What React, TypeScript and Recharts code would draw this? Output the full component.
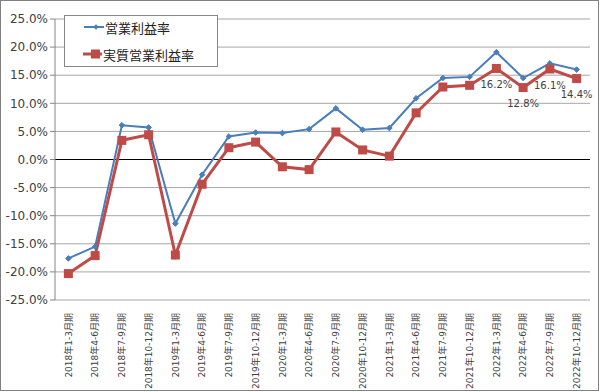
import React from "react";
import {
  LineChart,
  Line,
  XAxis,
  YAxis,
  CartesianGrid,
  ReferenceLine,
  LabelList,
} from "recharts";

const categories = [
  "2018年1-3月期", "2018年4-6月期", "2018年7-9月期", "2018年10-12月期",
  "2019年1-3月期", "2019年4-6月期", "2019年7-9月期", "2019年10-12月期",
  "2020年1-3月期", "2020年4-6月期", "2020年7-9月期", "2020年10-12月期",
  "2021年1-3月期", "2021年4-6月期", "2021年7-9月期", "2021年10-12月期",
  "2022年1-3月期", "2022年4-6月期", "2022年7-9月期", "2022年10-12月期",
];

const operatingMargin = [
  -17.6, -15.5, 6.1, 5.7, -11.4, -2.7, 4.1, 4.8, 4.7, 5.4,
  9.1, 5.3, 5.6, 10.9, 14.5, 14.7, 19.1, 14.5, 17.1, 16.0,
];

const realMargin = [
  -20.3, -17.1, 3.4, 4.4, -17.0, -4.4, 2.1, 3.1, -1.3, -1.8,
  4.9, 1.7, 0.6, 8.3, 12.9, 13.2, 16.2, 12.8, 16.1, 14.4,
];

const realLabels: (string | null)[] = [
  null, null, null, null, null, null, null, null, null, null,
  null, null, null, null, null, null, "16.2%", "12.8%", "16.1%", "14.4%",
];

const yTicks = [-25, -20, -15, -10, -5, 0, 5, 10, 15, 20, 25];

const seriesNames = ["営業利益率", "実質営業利益率"];

const BLUE = "#4A7EBB";
const RED = "#BE4B48";

const data = categories.map((c, i) => ({
  cat: c,
  op: operatingMargin[i],
  real: realMargin[i],
  label: realLabels[i],
}));

const XTick = (props: any) => {
  const { x, y, payload } = props;
  return (
    <text
      x={x}
      y={y + 5}
      transform={`rotate(-90, ${x}, ${y + 5})`}
      textAnchor="end"
      dy="0.36em"
      fontSize={9}
      fill="#404040"
      fontFamily="'DejaVu Sans', 'Noto Sans CJK JP', sans-serif"
    >
      {payload.value}
    </text>
  );
};

const Diamond = (props: any) => {
  const { cx, cy } = props;
  if (cx == null || cy == null) return null;
  const s = 2.8;
  return (
    <path
      d={`M${cx},${cy - s} L${cx + s},${cy} L${cx},${cy + s} L${cx - s},${cy} Z`}
      fill={BLUE}
      stroke={BLUE}
    />
  );
};

const Square = (props: any) => {
  const { cx, cy } = props;
  if (cx == null || cy == null) return null;
  const s = 4.5;
  return <rect x={cx - s} y={cy - s} width={s * 2} height={s * 2} fill={RED} />;
};

const LabelContent = (props: any) => {
  const { x, y, value } = props;
  if (value == null) return null;
  return (
    <text
      x={x}
      y={y + 16}
      textAnchor="middle"
      dominantBaseline="central"
      fontSize={10}
      fill="#404040"
      fontFamily="'DejaVu Sans', sans-serif"
    >
      {value}
    </text>
  );
};

const LegendBox = () => (
  <div
    style={{
      position: "absolute",
      left: 63,
      top: 14,
      width: 154,
      height: 52,
      border: "1px solid #888",
      background: "#fff",
      boxSizing: "border-box",
    }}
  >
    <svg width={152} height={50} style={{ position: "absolute", left: 0, top: 0 }}>
      <line x1={19} y1={11} x2={39} y2={11} stroke={BLUE} strokeWidth={2} />
      <path d="M31,8.2 L33.8,11 L31,13.8 L28.2,11 Z" fill={BLUE} />
      <text x={40} y={11} dominantBaseline="central" fontSize={13} fill="#222" fontFamily="'Noto Sans CJK JP', sans-serif">
        {seriesNames[0]}
      </text>
      <line x1={18} y1={38} x2={37} y2={38} stroke={RED} strokeWidth={3} />
      <rect x={26} y={33.5} width={9} height={9} fill={RED} />
      <text x={38} y={38} dominantBaseline="central" fontSize={13} fill="#222" fontFamily="'Noto Sans CJK JP', sans-serif">
        {seriesNames[1]}
      </text>
    </svg>
  </div>
);

export default function App() {
  return (
    <div
      style={{
        position: "absolute",
        left: 0,
        top: 0,
        width: 599,
        height: 391,
        border: "1px solid #808080",
        boxSizing: "border-box",
        background: "#fff",
        overflow: "hidden",
      }}
    >
      <div style={{ position: "absolute", left: -1, top: -1 }}>
        <LineChart
          width={599}
          height={391}
          data={data}
          margin={{ top: 19, right: 9, left: 0, bottom: 0 }}
        >
          <CartesianGrid vertical={false} stroke="#a6a6a6" strokeWidth={1} />
          <XAxis
            dataKey="cat"
            scale="band"
            interval={0}
            height={91}
            axisLine={false}
            tickLine={false}
            tick={<XTick />}
          />
          <YAxis
            width={55}
            domain={[-25, 25]}
            ticks={yTicks}
            type="number"
            allowDataOverflow
            tickFormatter={(v: number) => `${v.toFixed(1)}%`}
            axisLine={{ stroke: "#868686" }}
            tickLine={{ stroke: "#868686" }}
            tickSize={5}
            tick={{
              fontSize: 12,
              fill: "#404040",
              fontFamily: "'DejaVu Sans', sans-serif",
            }}
          />
          <ReferenceLine y={0} stroke="#000" strokeWidth={1} />
          <Line
            name={seriesNames[0]}
            dataKey="op"
            stroke={BLUE}
            strokeWidth={2}
            dot={<Diamond />}
            activeDot={false}
            isAnimationActive={false}
          />
          <Line
            name={seriesNames[1]}
            dataKey="real"
            stroke={RED}
            strokeWidth={3}
            dot={<Square />}
            activeDot={false}
            isAnimationActive={false}
          >
            <LabelList dataKey="label" content={<LabelContent />} />
          </Line>
        </LineChart>
      </div>
      <LegendBox />
    </div>
  );
}
